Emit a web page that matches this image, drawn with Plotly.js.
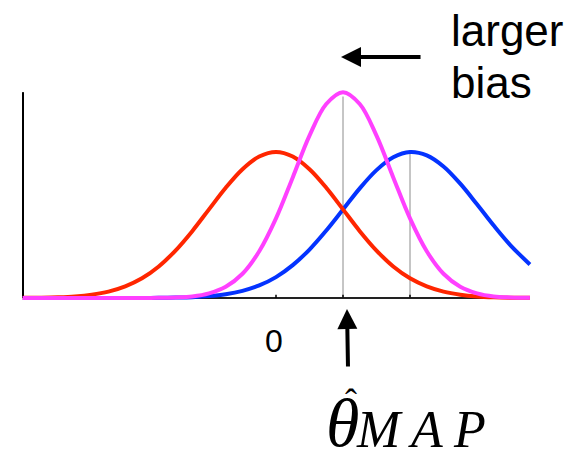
<!DOCTYPE html>
<html>
<head>
<meta charset="utf-8">
<script src="https://cdn.plot.ly/plotly-3.0.1.min.js"></script>
<style>
  html, body { margin: 0; padding: 0; background: #ffffff; }
  #chart { width: 585px; height: 463px; }
</style>
</head>
<body>
<div id="chart"></div>
<script>
// Parameter axis (theta) sample positions
const theta = [-3.78, -3.5, -3.25, -3, -2.75, -2.5, -2.25, -2, -1.75, -1.5, -1.25, -1,
               -0.75, -0.5, -0.25, 0, 0.25, 0.5, 0.75, 1, 1.25, 1.5, 1.75, 2,
               2.25, 2.5, 2.75, 3, 3.25, 3.5, 3.79];

// Prior (red), centred on 0
const prior = [0.001, 0.002, 0.005, 0.011, 0.023, 0.044, 0.080, 0.135, 0.216, 0.325, 0.458, 0.607,
               0.755, 0.882, 0.969, 1.000, 0.969, 0.882, 0.755, 0.607, 0.458, 0.325, 0.216, 0.135,
               0.080, 0.044, 0.023, 0.011, 0.005, 0.002, 0.001];

// Likelihood (blue), centred near 2
const likelihood = [0, 0, 0, 0, 0, 0, 0, 0, 0.001, 0.003, 0.006, 0.013,
                    0.026, 0.049, 0.086, 0.143, 0.225, 0.332, 0.462, 0.606, 0.751, 0.876, 0.964, 1.000,
                    0.977, 0.901, 0.783, 0.642, 0.496, 0.361, 0.230];

// Posterior (magenta), narrower and centred between the two
const posterior = [0, 0, 0, 0, 0, 0, 0, 0, 0.001, 0.004, 0.011, 0.032,
                   0.077, 0.166, 0.320, 0.545, 0.826, 1.112, 1.329, 1.410, 1.329, 1.112, 0.826, 0.545,
                   0.320, 0.166, 0.077, 0.032, 0.011, 0.004, 0.001];

// Vertical guide lines at the posterior and likelihood modes
const modeX = [1, 2];
const modeTop = [1.38, 0.99];

// Axis tick positions and the single labelled tick
const tickX = [0, 1, 2];
const zeroLabel = '0';

const xMin = -3.776, xMax = 3.791;   // extent of the drawn axis
const yAxisTop = 1.41;

function curve(y, color) {
  return {
    x: theta, y: y, type: 'scatter', mode: 'lines',
    line: { color: color, width: 4, shape: 'spline', smoothing: 1 },
    hoverinfo: 'skip', showlegend: false
  };
}

const data = [
  curve(likelihood, '#0433ff'),
  curve(prior, '#ff2600'),
  curve(posterior, '#ff40ff')
];

const shapes = [];
// axes
shapes.push({ type: 'line', xref: 'x', yref: 'y', x0: xMin, x1: xMin, y0: 0, y1: yAxisTop,
              line: { color: '#000000', width: 2 }, layer: 'below' });
shapes.push({ type: 'line', xref: 'x', yref: 'y', x0: xMin, x1: xMax, y0: 0, y1: 0,
              line: { color: '#222222', width: 2 }, layer: 'below' });
// mode guides
modeX.forEach((mx, i) => {
  shapes.push({ type: 'line', xref: 'x', yref: 'y', x0: mx, x1: mx, y0: 0, y1: modeTop[i],
                line: { color: '#8c8c8c', width: 1 }, layer: 'below' });
});
// small tick marks
tickX.forEach(tx => {
  shapes.push({ type: 'line', xref: 'x', yref: 'y', x0: tx, x1: tx, y0: 0, y1: 0.022,
                line: { color: '#000000', width: 1.5 }, layer: 'below' });
});

const sans = 'Liberation Sans, Arial, Helvetica, sans-serif';
const serif = 'Liberation Serif, Times New Roman, serif';

const annotations = [
  // tick label under the prior mean
  { xref: 'x', yref: 'paper', x: tickX[0] - 0.03, y: -0.1636, xanchor: 'center', yanchor: 'middle',
    text: zeroLabel, showarrow: false, font: { family: sans, size: 32, color: '#000' } },
  // "larger bias" with arrow pointing left
  { xref: 'paper', yref: 'paper', x: 0.827, y: 1.2477, xanchor: 'left', yanchor: 'middle',
    text: 'larger', showarrow: false, font: { family: sans, size: 44, color: '#000' } },
  { xref: 'paper', yref: 'paper', x: 0.827, y: 1.0114, xanchor: 'left', yanchor: 'middle',
    text: 'bias', showarrow: false, font: { family: sans, size: 44, color: '#000' } },
  { xref: 'paper', yref: 'paper', x: 0.621, y: 1.127, text: '', showarrow: true,
    ax: 81, ay: 0, arrowhead: 2, arrowsize: 1, arrowwidth: 4, arrowcolor: '#000', standoff: 0 },
  // arrow pointing up at the MAP estimate
  { xref: 'paper', yref: 'paper', x: 0.6324, y: -0.0182, text: '', showarrow: true,
    ax: 1, ay: 59, arrowhead: 2, arrowsize: 1, arrowwidth: 4, arrowcolor: '#000', standoff: 0 },
  // theta-hat MAP label
  { xref: 'paper', yref: 'paper', x: 0.6238, y: -0.5386, xanchor: 'center', yanchor: 'middle',
    text: 'θ', showarrow: false, font: { family: serif, size: 68, style: 'italic', color: '#000' } },
  { xref: 'paper', yref: 'paper', x: 0.64, y: -0.441, xanchor: 'center', yanchor: 'middle',
    text: 'ˆ', showarrow: false, font: { family: serif, size: 36, color: '#000' } },
  { xref: 'paper', yref: 'paper', x: 0.6952, y: -0.566, xanchor: 'center', yanchor: 'middle',
    text: 'M', showarrow: false, font: { family: serif, size: 52, style: 'italic', color: '#000' } },
  { xref: 'paper', yref: 'paper', x: 0.781, y: -0.566, xanchor: 'center', yanchor: 'middle',
    text: 'A', showarrow: false, font: { family: serif, size: 52, style: 'italic', color: '#000' } },
  { xref: 'paper', yref: 'paper', x: 0.8648, y: -0.566, xanchor: 'center', yanchor: 'middle',
    text: 'P', showarrow: false, font: { family: serif, size: 52, style: 'italic', color: '#000' } }
];

const layout = {
  width: 585, height: 463,
  margin: { l: 15, r: 45, t: 85, b: 158 },
  paper_bgcolor: '#ffffff', plot_bgcolor: '#ffffff',
  showlegend: false,
  xaxis: {
    range: [-3.8955, 3.9403], showgrid: false, zeroline: false, showline: false,
    showticklabels: false, ticks: '', fixedrange: true
  },
  yaxis: {
    range: [-0.0479, 1.4589], showgrid: false, zeroline: false, showline: false,
    showticklabels: false, ticks: '', fixedrange: true
  },
  shapes: shapes,
  annotations: annotations
};

Plotly.newPlot('chart', data, layout, { displayModeBar: false, staticPlot: true });
</script>
</body>
</html>
